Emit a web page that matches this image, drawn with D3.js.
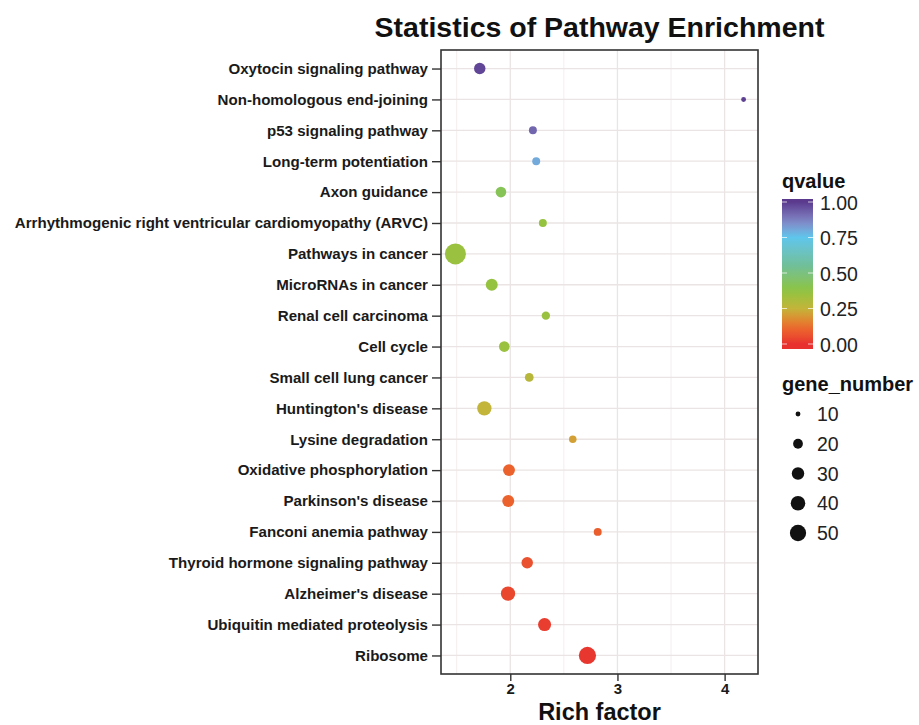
<!DOCTYPE html>
<html>
<head>
<meta charset="utf-8">
<script src="https://cdn.jsdelivr.net/npm/d3@7"></script>
<style>
  body { margin: 0; background: #fff; }
  text { font-family: "Liberation Sans", Arial, Helvetica, sans-serif; }
</style>
</head>
<body>
<div id="chart"></div>
<script>
// pathways, top to bottom
var pathways = [
    "Oxytocin signaling pathway",
    "Non-homologous end-joining",
    "p53 signaling pathway",
    "Long-term potentiation",
    "Axon guidance",
    "Arrhythmogenic right ventricular cardiomyopathy (ARVC)",
    "Pathways in cancer",
    "MicroRNAs in cancer",
    "Renal cell carcinoma",
    "Cell cycle",
    "Small cell lung cancer",
    "Huntington's disease",
    "Lysine degradation",
    "Oxidative phosphorylation",
    "Parkinson's disease",
    "Fanconi anemia pathway",
    "Thyroid hormone signaling pathway",
    "Alzheimer's disease",
    "Ubiquitin mediated proteolysis",
    "Ribosome"
];
var richFactor = [1.715, 4.177, 2.211, 2.242, 1.913, 2.304, 1.488, 1.827, 2.332, 1.944,
                  2.177, 1.758, 2.583, 1.988, 1.981, 2.816, 2.158, 1.979, 2.320, 2.720];
var geneNumber = [26, 10, 15, 15, 23, 15, 84, 28, 16, 23,
                  17, 39, 14, 28, 28, 15, 26, 39, 33, 56];
var qvalue = [0.98, 0.99, 0.92, 0.80, 0.42, 0.36, 0.35, 0.36, 0.35, 0.35,
              0.28, 0.25, 0.21, 0.10, 0.10, 0.09, 0.06, 0.04, 0.02, 0.01];

var xTicks = [2, 3, 4];
var qTicks = [0, 0.25, 0.5, 0.75, 1];
var sizeBreaks = [10, 20, 30, 40, 50];

// gradient used for qvalue
var qStops = [0, 0.12, 0.25, 0.38, 0.55, 0.75, 0.87, 1];
var qColours = ["#e8302f", "#eb6a2c", "#c3b43a", "#8bc540", "#70bf98", "#5ec6ec", "#8083c4", "#5b3a8e"];

var data = pathways.map(function (p, i) {
    return { name: p, rich: richFactor[i], genes: geneNumber[i], q: qvalue[i] };
});

var W = 919, H = 725;
var panel = { left: 441, right: 758, top: 50, bottom: 674 };

var svg = d3.select("#chart").append("svg")
    .attr("width", W)
    .attr("height", H);

// x: data range plus 5% each side, like ggplot
var ext = d3.extent(richFactor);
var pad = (ext[1] - ext[0]) * 0.05;
var x = d3.scaleLinear()
    .domain([ext[0] - pad, ext[1] + pad])
    .range([panel.left, panel.right]);

var y = d3.scalePoint()
    .domain(pathways)
    .range([panel.top, panel.bottom])
    .padding(0.6);

var colour = d3.scaleLinear()
    .domain(qStops)
    .range(qColours)
    .interpolate(d3.interpolateLab);

var gMin = 9, gMax = 84;
var sizeScale = d3.scaleSqrt().domain([0, gMax - gMin]).range([1.4, 10.5]);
function radius(v) { return sizeScale(Math.max(0, v - gMin)); }

// grid
var minorTicks = [1.5, 2.5, 3.5];
svg.append("g").selectAll("line")
    .data(minorTicks)
    .enter().append("line")
    .attr("x1", function (d) { return x(d); })
    .attr("x2", function (d) { return x(d); })
    .attr("y1", panel.top).attr("y2", panel.bottom)
    .attr("stroke", "#f3eeee").attr("stroke-width", 1);

svg.append("g").selectAll("line")
    .data(xTicks)
    .enter().append("line")
    .attr("x1", function (d) { return x(d); })
    .attr("x2", function (d) { return x(d); })
    .attr("y1", panel.top).attr("y2", panel.bottom)
    .attr("stroke", "#ebe4e4").attr("stroke-width", 1.3);

svg.append("g").selectAll("line")
    .data(pathways)
    .enter().append("line")
    .attr("x1", panel.left).attr("x2", panel.right)
    .attr("y1", function (d) { return y(d); })
    .attr("y2", function (d) { return y(d); })
    .attr("stroke", "#ebe4e4").attr("stroke-width", 1.3);

// points
svg.append("g").selectAll("circle")
    .data(data)
    .enter().append("circle")
    .attr("cx", function (d) { return x(d.rich); })
    .attr("cy", function (d) { return y(d.name); })
    .attr("r", function (d) { return radius(d.genes); })
    .attr("fill", function (d) { return colour(d.q); });

// panel border
svg.append("rect")
    .attr("x", panel.left).attr("y", panel.top)
    .attr("width", panel.right - panel.left)
    .attr("height", panel.bottom - panel.top)
    .attr("fill", "none")
    .attr("stroke", "#333")
    .attr("stroke-width", 1.6);

// axes
var yAxis = svg.append("g")
    .attr("transform", "translate(" + panel.left + ",0)")
    .call(d3.axisLeft(y).tickSize(9).tickPadding(4));
yAxis.select(".domain").remove();
yAxis.selectAll(".tick line").attr("stroke", "#333").attr("stroke-width", 1.4);
yAxis.selectAll(".tick text")
    .attr("fill", "#1a1a1a")
    .style("font-size", "15.1px")
    .style("font-weight", "bold")
    .style("font-family", "Liberation Sans, Arial, sans-serif");

var xAxis = svg.append("g")
    .attr("transform", "translate(0," + panel.bottom + ")")
    .call(d3.axisBottom(x).tickValues(xTicks).tickFormat(d3.format("d")).tickSize(7).tickPadding(2));
xAxis.select(".domain").remove();
xAxis.selectAll(".tick line").attr("stroke", "#333").attr("stroke-width", 1.4);
xAxis.selectAll(".tick text")
    .attr("fill", "#1a1a1a")
    .style("font-size", "15px")
    .style("font-weight", "bold")
    .style("font-family", "Liberation Sans, Arial, sans-serif");

// titles
svg.append("text")
    .attr("x", (panel.left + panel.right) / 2)
    .attr("y", 37)
    .attr("text-anchor", "middle")
    .style("font-size", "28.5px")
    .style("font-weight", "bold")
    .attr("fill", "#111")
    .text("Statistics of Pathway Enrichment");

svg.append("text")
    .attr("x", (panel.left + panel.right) / 2)
    .attr("y", 720)
    .attr("text-anchor", "middle")
    .style("font-size", "23.5px")
    .style("font-weight", "bold")
    .attr("fill", "#111")
    .text("Rich factor");

// qvalue colour bar
var bar = { x: 782, w: 31, top: 199, bottom: 349 };
var qy = d3.scaleLinear().domain([0, 1]).range([344, 202]);

var defs = svg.append("defs");
var grad = defs.append("linearGradient")
    .attr("id", "qgrad")
    .attr("x1", 0).attr("y1", 1).attr("x2", 0).attr("y2", 0);
d3.range(0, 1.0001, 0.05).forEach(function (t) {
    grad.append("stop")
        .attr("offset", (bar.bottom - qy(t)) / (bar.bottom - bar.top))
        .attr("stop-color", colour(t));
});

svg.append("text")
    .attr("x", 782).attr("y", 188)
    .style("font-size", "20px").style("font-weight", "bold")
    .attr("fill", "#111")
    .text("qvalue");

svg.append("rect")
    .attr("x", bar.x).attr("y", bar.top)
    .attr("width", bar.w).attr("height", bar.bottom - bar.top)
    .attr("fill", "url(#qgrad)");

var qTickG = svg.append("g").selectAll("g")
    .data(qTicks)
    .enter().append("g");
qTickG.append("line")
    .attr("x1", bar.x).attr("x2", bar.x + 5)
    .attr("y1", function (d) { return qy(d); })
    .attr("y2", function (d) { return qy(d); })
    .attr("stroke", "#fff").attr("stroke-opacity", 0.7);
qTickG.append("line")
    .attr("x1", bar.x + bar.w - 5).attr("x2", bar.x + bar.w)
    .attr("y1", function (d) { return qy(d); })
    .attr("y2", function (d) { return qy(d); })
    .attr("stroke", "#fff").attr("stroke-opacity", 0.7);
qTickG.append("text")
    .attr("x", bar.x + bar.w + 7)
    .attr("y", function (d) { return qy(d); })
    .attr("dy", "0.4em")
    .style("font-size", "19.5px")
    .attr("fill", "#222")
    .text(function (d) { return d3.format(".2f")(d); });

// gene_number legend
svg.append("text")
    .attr("x", 782).attr("y", 391)
    .style("font-size", "20px").style("font-weight", "bold")
    .attr("fill", "#111")
    .text("gene_number");

var sizeY = d3.scalePoint().domain(sizeBreaks).range([414, 533]);
var sizeG = svg.append("g").selectAll("g")
    .data(sizeBreaks)
    .enter().append("g");
sizeG.append("circle")
    .attr("cx", 798)
    .attr("cy", function (d) { return sizeY(d); })
    .attr("r", function (d) { return radius(d); })
    .attr("fill", "#111");
sizeG.append("text")
    .attr("x", 817)
    .attr("y", function (d) { return sizeY(d); })
    .attr("dy", "0.36em")
    .style("font-size", "19.5px")
    .attr("fill", "#222")
    .text(function (d) { return d; });
</script>
</body>
</html>
